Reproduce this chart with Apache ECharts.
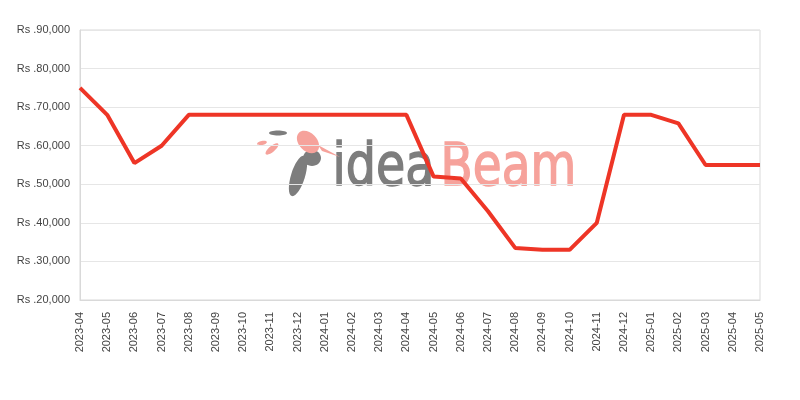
<!DOCTYPE html>
<html>
<head>
<meta charset="utf-8">
<script src="https://cdn.jsdelivr.net/npm/echarts@6/dist/echarts.min.js"></script>
<style>html,body{margin:0;padding:0;background:#fff}#c{width:800px;height:400px}</style>
</head>
<body>
<div id="c"></div>
<script>
const categories = ['2023-04','2023-05','2023-06','2023-07','2023-08','2023-09','2023-10','2023-11','2023-12','2024-01','2024-02','2024-03','2024-04','2024-05','2024-06','2024-07','2024-08','2024-09','2024-10','2024-11','2024-12','2025-01','2025-02','2025-03','2025-04','2025-05'];
const prices = [75000,68000,55500,60000,68000,68000,68000,68000,68000,68000,68000,68000,68000,52000,51500,43000,33500,33000,33000,40000,68000,68000,65800,55000,55000,55000];
const yMin = 20000, yMax = 90000, yStep = 10000;

const chart = echarts.init(document.getElementById('c'), null, {renderer:'canvas'});
chart.setOption({
  animation:false,
  grid:{left:80,right:40,top:30,bottom:100,show:true,borderColor:'#d9d9d9',borderWidth:1,backgroundColor:'transparent'},
  graphic:[
    {type:'text',left:332,top:140,z:0,scaleX:0.82,style:{text:'idea',font:'58px "DejaVu Sans"',fill:'#7d7d7d',stroke:'#7d7d7d',lineWidth:1.5}},
    {type:'text',left:440,top:140,z:0,scaleX:0.81,style:{text:'Beam',font:'58px "DejaVu Sans"',fill:'#f6a29b',stroke:'#f6a29b',lineWidth:1.5}},
    {type:'ellipse',z:0,shape:{cx:0,cy:0,rx:7,ry:21},x:298,y:176,rotation:-0.3,style:{fill:'#7d7d7d'}},
    {type:'ellipse',z:0,shape:{cx:0,cy:0,rx:9,ry:8},x:312,y:158,style:{fill:'#7d7d7d'}},
    {type:'ellipse',z:0,shape:{cx:0,cy:0,rx:13,ry:9},x:308,y:142,rotation:-0.8,style:{fill:'#f6a29b'}},
    {type:'polygon',z:0,shape:{points:[[318,145],[340,157],[322,151]]},style:{fill:'#f6a29b'}},
    {type:'ellipse',z:0,shape:{cx:0,cy:0,rx:9,ry:2.5},x:278,y:133,style:{fill:'#7d7d7d'}},
    {type:'ellipse',z:0,shape:{cx:0,cy:0,rx:5,ry:2},x:262,y:143,rotation:0.2,style:{fill:'#f6a29b'}},
    {type:'ellipse',z:0,shape:{cx:0,cy:0,rx:8,ry:3},x:272,y:149,rotation:0.7,style:{fill:'#f6a29b'}}
  ],
  xAxis:{type:'category',data:categories,boundaryGap:false,
    axisLine:{lineStyle:{color:'#d9d9d9'}},axisTick:{show:false},
    axisLabel:{rotate:90,color:'#444',fontSize:11,fontFamily:'Liberation Sans',margin:12,interval:0},
    splitLine:{show:false}},
  yAxis:{type:'value',min:yMin,max:yMax,interval:yStep,
    axisLine:{show:true,lineStyle:{color:'#d9d9d9'}},axisTick:{show:false},
    axisLabel:{color:'#444',fontSize:11,fontFamily:'Liberation Sans',margin:10,
      formatter:v=>'Rs .'+v.toLocaleString('en-US')},
    splitLine:{lineStyle:{color:'#e6e6e6'}}},
  series:[{type:'line',data:prices,showSymbol:false,z:5,
    lineStyle:{color:'#ee3526',width:4},itemStyle:{color:'#ee3526'}}]
});
</script>
</body>
</html>
